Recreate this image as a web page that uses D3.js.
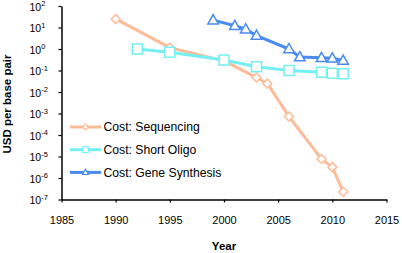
<!DOCTYPE html>
<html>
<head>
<meta charset="utf-8">
<script src="https://cdn.jsdelivr.net/npm/d3@7"></script>
<style>
  body { margin: 0; background: #fff; }
  svg { font-family: "Liberation Sans", Arial, sans-serif; }
</style>
</head>
<body>
<svg id="chart"></svg>
<script>
// values
var seqYears = [1990, 1995, 2000, 2003, 2004, 2006, 2009, 2010, 2011]
var seqCost = [25, 1.15, 0.28, 0.047, 0.025, 7.2e-4, 7.6e-6, 3.2e-6, 2.3e-7]

var oligoYears = [1992, 1995, 2000, 2003, 2006, 2009, 2010, 2011]
var oligoCost = [1.0, 0.7, 0.31, 0.15, 0.1, 0.083, 0.074, 0.071]

var geneYears = [1999, 2001, 2002, 2003, 2006, 2007, 2009, 2010, 2011]
var geneCost = [22, 12, 8.3, 4.2, 1.0, 0.42, 0.39, 0.37, 0.29]

var xTicks = [1985, 1990, 1995, 2000, 2005, 2010, 2015]
var yExponents = [2, 1, 0, -1, -2, -3, -4, -5, -6, -7]

var seriesNames = ["Cost: Sequencing", "Cost: Short Oligo", "Cost: Gene Synthesis"]
var seriesColors = ["#fdbb98", "#74f0f2", "#4a8bee"]
var seriesMarkers = ["diamond", "square", "triangle"]

var screen = {width: 402, height: 253}
var margins = {top: 6, left: 61.5}
var plotW = 325, plotH = 193.5

var svg = d3.select("#chart")
    .attr("width", screen.width)
    .attr("height", screen.height)

var g = svg.append("g")
    .attr("transform", "translate(" + margins.left + "," + margins.top + ")")

var xScale = d3.scaleLinear().domain([1985, 2015]).range([0, plotW])
var yScale = d3.scaleLog().domain([1e-7, 1e2]).range([plotH, 0])

// axes
var xAxis = d3.axisBottom(xScale).tickValues(xTicks).tickSize(3).tickSizeOuter(0).tickFormat(d3.format("d"))
var yAxis = d3.axisLeft(yScale).tickValues(yExponents.map(function(e){return Math.pow(10, e)})).tickSize(3).tickSizeOuter(0).tickFormat("")

var gx = g.append("g").attr("transform", "translate(0," + plotH + ")").call(xAxis)
gx.selectAll("text").attr("font-size", 11).attr("fill", "#000").attr("dy", "1.7em")
   .attr("font-family", "Liberation Sans, Arial, sans-serif")

var gy = g.append("g").call(yAxis)
;[gx, gy].forEach(function(a){
    a.select(".domain").attr("stroke", "#000").attr("stroke-width", 1.5)
    a.selectAll(".tick line").attr("stroke", "#000").attr("stroke-width", 1.2)
})

// y labels as 10^n, left aligned like the original
var ylab = svg.append("g")
yExponents.forEach(function(e){
    var t = ylab.append("text")
        .attr("x", 29.5)
        .attr("y", margins.top + yScale(Math.pow(10, e)) + 4.5)
        .attr("text-anchor", "start")
        .attr("font-size", 10.5)
        .text("10")
    t.append("tspan").attr("dy", -4.5).attr("font-size", 7.5).text(e)
})

// axis titles
svg.append("text")
    .attr("transform", "translate(11," + 104 + ") rotate(-90)")
    .attr("text-anchor", "middle")
    .attr("font-size", 11.5).attr("font-weight", "bold")
    .text("USD per base pair")

svg.append("text")
    .attr("x", margins.left + plotW / 2).attr("y", 249.5)
    .attr("text-anchor", "middle")
    .attr("font-size", 11.5).attr("font-weight", "bold")
    .text("Year")

var markerPath = function(kind, s){
    if (kind == "diamond") return "M0," + (-s) + "L" + s + ",0L0," + s + "L" + (-s) + ",0Z"
    if (kind == "square") return "M" + (-s) + "," + (-s) + "H" + s + "V" + s + "H" + (-s) + "Z"
    return "M0," + (-s * 1.1) + "L" + (s * 1.05) + "," + (s * 0.75) + "L" + (-s * 1.05) + "," + (s * 0.75) + "Z"
}

var series = [
    {years: seqYears, cost: seqCost},
    {years: oligoYears, cost: oligoCost},
    {years: geneYears, cost: geneCost}
]
var markerSizes = [4.5, 5, 5]

var lineGenerator = d3.line()
    .x(function(d){return xScale(d[0])})
    .y(function(d){return yScale(d[1])})

series.forEach(function(s, i){
    var pts = s.years.map(function(y, j){return [y, s.cost[j]]})
    g.append("path")
        .datum(pts)
        .attr("fill", "none")
        .attr("stroke", seriesColors[i])
        .attr("stroke-width", 3)
        .attr("stroke-linejoin", "round")
        .attr("d", lineGenerator)
    g.selectAll(".m" + i)
        .data(pts)
        .enter()
        .append("path")
        .attr("class", "m" + i)
        .attr("transform", function(d){return "translate(" + xScale(d[0]) + "," + yScale(d[1]) + ")"})
        .attr("d", markerPath(seriesMarkers[i], markerSizes[i]))
        .attr("fill", "#fff")
        .attr("stroke", seriesColors[i])
        .attr("stroke-width", 1.5)
})

// legend
var legend = svg.append("g").attr("transform", "translate(70,127)")
seriesNames.forEach(function(name, i){
    var row = legend.append("g").attr("transform", "translate(0," + (i * 22.7) + ")")
    row.append("line").attr("x1", 0).attr("x2", 31).attr("y1", 0).attr("y2", 0)
        .attr("stroke", seriesColors[i]).attr("stroke-width", 3)
    row.append("path").attr("transform", "translate(15.5,0)")
        .attr("d", markerPath(seriesMarkers[i], 2.8))
        .attr("fill", "#fff").attr("stroke", seriesColors[i]).attr("stroke-width", 1.2)
    row.append("text").attr("x", 33.5).attr("y", 4.3).attr("font-size", 12.2).text(name)
})
</script>
</body>
</html>
